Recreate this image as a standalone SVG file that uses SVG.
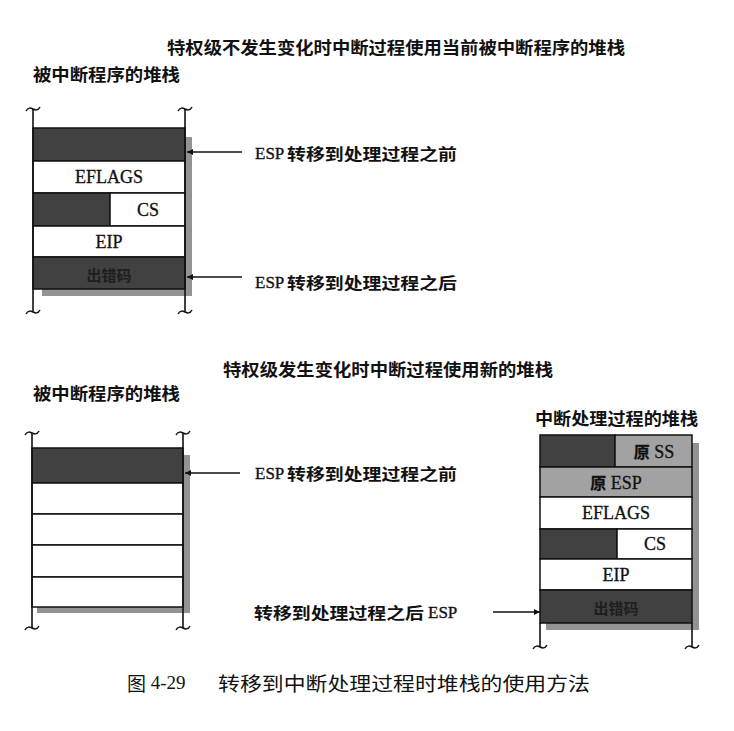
<svg xmlns="http://www.w3.org/2000/svg" width="734" height="731" viewBox="0 0 734 731">
<style>
.bg{fill:#ffffff}
.cjk{font-family:"Noto Sans CJK SC","Noto Sans",sans-serif;fill:#111}
.ttl{font-size:17px;font-weight:700}
.lbl{font-size:16px;font-weight:700}
.cap{font-size:19px;font-weight:400}
.lat{font-family:"Liberation Serif","Times New Roman",serif;fill:#111}
.esp{font-size:17px;stroke:#111;stroke-width:0.35}
.cell{font-size:18px;text-anchor:middle;stroke:#111;stroke-width:0.3}
.dark{fill:#414141;stroke:#111;stroke-width:1.5}
.gray{fill:#a2a2a2;stroke:#111;stroke-width:1.5}
.white{fill:#ffffff;stroke:#111;stroke-width:1.5}
.shadow{fill:#939393}
.side{stroke:#111;stroke-width:1.6;fill:none}
.tilde{stroke:#111;stroke-width:1.5;fill:none}
.conn{stroke:#111;stroke-width:1.3;fill:none}
.hidden{fill:#1e1e1e}
</style>
<defs>
<marker id="ah" viewBox="0 0 10 10" refX="10" refY="5" markerWidth="9" markerHeight="6" markerUnits="userSpaceOnUse" orient="auto">
<path d="M0,0 L10,5 L0,10 z" fill="#111"/>
</marker>
<path id="tildeTop" d="M-7,2 C-5,-2 -2,-1 0,0 C2,1 5,2 7,-2"/>
</defs>
<rect class="bg" x="0" y="0" width="734" height="731"/>

<g id="titles">
<text class="cjk ttl" x="167" y="46" dominant-baseline="central" textLength="458" lengthAdjust="spacingAndGlyphs">特权级不发生变化时中断过程使用当前被中断程序的堆栈</text>
<text class="cjk ttl" x="33" y="73" dominant-baseline="central" textLength="147" lengthAdjust="spacingAndGlyphs">被中断程序的堆栈</text>
<text class="cjk ttl" x="223" y="368" dominant-baseline="central" textLength="330" lengthAdjust="spacingAndGlyphs">特权级发生变化时中断过程使用新的堆栈</text>
<text class="cjk ttl" x="33" y="392" dominant-baseline="central" textLength="147" lengthAdjust="spacingAndGlyphs">被中断程序的堆栈</text>
<text class="cjk ttl" x="535" y="417" dominant-baseline="central" textLength="163" lengthAdjust="spacingAndGlyphs">中断处理过程的堆栈</text>
</g>

<g id="stack-top">
<rect class="shadow" x="185" y="137" width="7" height="158"/>
<rect class="shadow" x="42" y="289" width="150" height="7"/>
<rect class="dark" x="33" y="128" width="152" height="33"/>
<rect class="white" x="33" y="161" width="152" height="32"/>
<rect class="dark" x="33" y="193" width="77" height="33"/>
<rect class="white" x="110" y="193" width="75" height="33"/>
<rect class="white" x="33" y="226" width="152" height="31"/>
<rect class="dark" x="33" y="257" width="152" height="32"/>
<line class="side" x1="33" y1="109" x2="33" y2="312"/>
<line class="side" x1="185" y1="109" x2="185" y2="312"/>
<use href="#tildeTop" class="tilde" x="33" y="109"/>
<use href="#tildeTop" class="tilde" x="185" y="109"/>
<use href="#tildeTop" class="tilde" x="33" y="312"/>
<use href="#tildeTop" class="tilde" x="185" y="312"/>
<text class="lat cell" x="109" y="183">EFLAGS</text>
<text class="lat cell" x="148" y="216">CS</text>
<text class="lat cell" x="109" y="248">EIP</text>
<text class="cjk hidden" x="109" y="274" font-size="15" font-weight="700" text-anchor="middle" dominant-baseline="central">出错码</text>
</g>

<g id="stack-bottom-left">
<rect class="shadow" x="183" y="455" width="7" height="158"/>
<rect class="shadow" x="37" y="607" width="153" height="6"/>
<rect class="dark" x="32" y="448" width="151" height="35"/>
<rect class="white" x="32" y="483" width="151" height="31"/>
<rect class="white" x="32" y="514" width="151" height="31"/>
<rect class="white" x="32" y="545" width="151" height="32"/>
<rect class="white" x="32" y="577" width="151" height="30"/>
<line class="side" x1="32" y1="433" x2="32" y2="628"/>
<line class="side" x1="183" y1="433" x2="183" y2="628"/>
<use href="#tildeTop" class="tilde" x="32" y="433"/>
<use href="#tildeTop" class="tilde" x="183" y="433"/>
<use href="#tildeTop" class="tilde" x="32" y="628"/>
<use href="#tildeTop" class="tilde" x="183" y="628"/>
</g>

<g id="stack-right">
<rect class="shadow" x="692" y="443" width="7" height="187"/>
<rect class="shadow" x="546" y="623" width="153" height="7"/>
<rect class="dark" x="540" y="435" width="75" height="32"/>
<rect class="gray" x="615" y="435" width="77" height="32"/>
<rect class="gray" x="540" y="467" width="152" height="30"/>
<rect class="white" x="540" y="497" width="152" height="32"/>
<rect class="dark" x="540" y="529" width="77" height="30"/>
<rect class="white" x="617" y="529" width="75" height="30"/>
<rect class="white" x="540" y="559" width="152" height="31"/>
<rect class="dark" x="540" y="590" width="152" height="33"/>
<line class="side" x1="540" y1="623" x2="540" y2="647"/>
<line class="side" x1="692" y1="623" x2="692" y2="647"/>
<use href="#tildeTop" class="tilde" x="540" y="647"/>
<use href="#tildeTop" class="tilde" x="692" y="647"/>
<text class="lat cell" x="654" y="458"><tspan class="cjk" font-size="16" font-weight="700">原</tspan><tspan> SS</tspan></text>
<text class="lat cell" x="616" y="489"><tspan class="cjk" font-size="16" font-weight="700">原</tspan><tspan> ESP</tspan></text>
<text class="lat cell" x="616" y="519">EFLAGS</text>
<text class="lat cell" x="655" y="550">CS</text>
<text class="lat cell" x="616" y="581">EIP</text>
<text class="cjk hidden" x="616" y="607" font-size="15" font-weight="700" text-anchor="middle" dominant-baseline="central">出错码</text>
</g>

<g id="labels">
<text class="lat esp" x="255" y="159">ESP</text>
<text class="cjk lbl" x="287" y="153" dominant-baseline="central" textLength="170" lengthAdjust="spacingAndGlyphs">转移到处理过程之前</text>
<text class="lat esp" x="255" y="288">ESP</text>
<text class="cjk lbl" x="287" y="282" dominant-baseline="central" textLength="170" lengthAdjust="spacingAndGlyphs">转移到处理过程之后</text>
<text class="lat esp" x="255" y="479">ESP</text>
<text class="cjk lbl" x="287" y="473" dominant-baseline="central" textLength="170" lengthAdjust="spacingAndGlyphs">转移到处理过程之前</text>
<text class="cjk lbl" x="254" y="612" dominant-baseline="central" textLength="170" lengthAdjust="spacingAndGlyphs">转移到处理过程之后</text>
<text class="lat esp" x="428" y="618">ESP</text>
</g>

<g id="connectors">
<line class="conn" x1="242" y1="152" x2="187" y2="152" marker-end="url(#ah)"/>
<line class="conn" x1="242" y1="277" x2="187" y2="277" marker-end="url(#ah)"/>
<line class="conn" x1="240" y1="473" x2="185" y2="473" marker-end="url(#ah)"/>
<line class="conn" x1="493" y1="612" x2="540" y2="612" marker-end="url(#ah)"/>
</g>

<g id="caption">
<text class="cjk cap" x="127" y="682" dominant-baseline="central">图<tspan class="lat" font-size="19"> 4-29</tspan></text>
<text class="cjk cap" x="218" y="682" dominant-baseline="central" textLength="372" lengthAdjust="spacingAndGlyphs">转移到中断处理过程时堆栈的使用方法</text>
</g>
</svg>
